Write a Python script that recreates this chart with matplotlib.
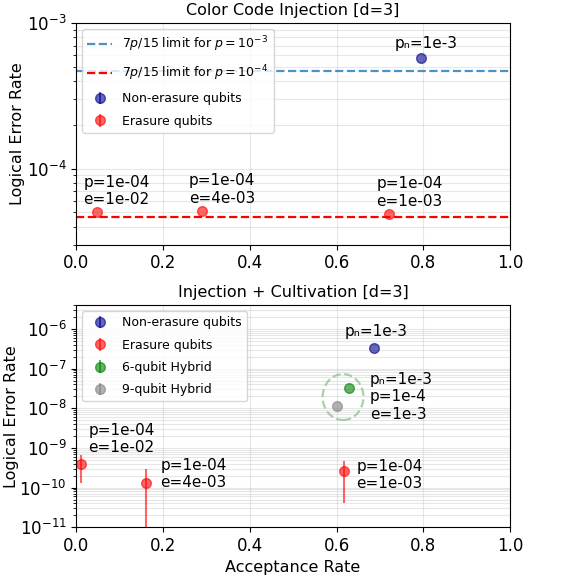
import numpy as np
import matplotlib.pyplot as plt
from matplotlib.patches import Ellipse

# top panel: color code injection
inj_non_x = [0.795]
inj_non_y = [5.75e-4]
inj_era_x = [0.047, 0.29, 0.722]
inj_era_y = [5.0e-5, 5.15e-5, 4.9e-5]
inj_era_labels = ["p=1e-04\ne=1e-02", "p=1e-04\ne=4e-03", "p=1e-04\ne=1e-03"]
p_hi = 1e-3
p_lo = 1e-4

# bottom panel: injection + cultivation
cul_non_x = [0.687]
cul_non_y = [3.3e-7]
cul_era_x = [0.01, 0.162, 0.618]
cul_era_y = [3.9e-10, 1.3e-10, 2.6e-10]
cul_era_lo = [1.3e-10, 1e-13, 4.0e-11]
cul_era_hi = [6.8e-10, 2.9e-10, 4.8e-10]
cul_era_labels = ["p=1e-04\ne=1e-02", "p=1e-04\ne=4e-03", "p=1e-04\ne=1e-03"]
hyb6_x = [0.628]
hyb6_y = [3.3e-8]
hyb9_x = [0.601]
hyb9_y = [1.15e-8]

fig = plt.figure(figsize=(5.77, 5.8), dpi=100)
ax1 = fig.add_axes([0.132, 0.578, 0.752, 0.382])
ax2 = fig.add_axes([0.132, 0.091, 0.752, 0.383])

ms = 7
alpha = 0.6
fs = 11.5
afs = 11

# ---- top
ax1.axhline(7 * p_hi / 15, color='tab:blue', ls='--', lw=1.6, alpha=0.8,
            label=r'$7p/15$ limit for $p=10^{-3}$')
ax1.axhline(7 * p_lo / 15, color='red', ls='--', lw=1.6,
            label=r'$7p/15$ limit for $p=10^{-4}$')
ax1.errorbar(inj_non_x, inj_non_y, yerr=[[0], [0]], fmt='o', color='darkblue',
             alpha=alpha, ms=ms, label='Non-erasure qubits')
ax1.errorbar(inj_era_x, inj_era_y, yerr=[[0] * 3, [0] * 3], fmt='o', color='red',
             alpha=alpha, ms=ms, label='Erasure qubits')
ax1.annotate("pₙ=1e-3", (inj_non_x[0], inj_non_y[0]), xytext=(-26, 7),
             textcoords='offset pixels', ha='left', va='bottom', fontsize=afs)
for x, y, t in zip(inj_era_x, inj_era_y, inj_era_labels):
    ax1.annotate(t, (x, y), xytext=(-13, 5), textcoords='offset pixels',
                 ha='left', va='bottom', fontsize=afs, linespacing=1.2)
ax1.set_yscale('log')
ax1.set_ylim(3e-5, 1e-3)
ax1.set_xlim(0, 1)
ax1.set_title('Color Code Injection [d=3]', fontsize=fs)
ax1.set_ylabel('Logical Error Rate', fontsize=fs)
ax1.yaxis.set_label_coords(-0.118, 0.5)
ax1.grid(True, which='major', alpha=0.3)
ax1.grid(True, which='minor', axis='y', alpha=0.3)
ax1.tick_params(labelsize=12)
ax1.legend(loc='upper left', fontsize=9, labelspacing=0.75)

# ---- bottom
ax2.errorbar(cul_non_x, cul_non_y, yerr=[[0], [0]], fmt='o', color='darkblue',
             alpha=alpha, ms=ms, label='Non-erasure qubits')
yerr = [np.array(cul_era_y) - np.array(cul_era_lo),
        np.array(cul_era_hi) - np.array(cul_era_y)]
ax2.errorbar(cul_era_x, cul_era_y, yerr=yerr, fmt='o', color='red',
             alpha=alpha, ms=ms, lw=1.5, label='Erasure qubits')
ax2.errorbar(hyb6_x, hyb6_y, yerr=[[0], [0]], fmt='o', color='green',
             alpha=alpha, ms=ms, label='6-qubit Hybrid')
ax2.errorbar(hyb9_x, hyb9_y, yerr=[[0], [0]], fmt='o', color='gray',
             alpha=alpha, ms=ms, label='9-qubit Hybrid')
ax2.add_patch(Ellipse((0.615, 0.586), 0.094, 0.207, transform=ax2.transAxes,
                      fill=False, ls='--', lw=1.6, ec='green', alpha=0.35))
ax2.annotate("pₙ=1e-3", (cul_non_x[0], cul_non_y[0]), xytext=(-30, 9),
             textcoords='offset pixels', ha='left', va='bottom', fontsize=afs)
ax2.annotate("pₙ=1e-3\np=1e-4\ne=1e-3", (hyb6_x[0], hyb6_y[0]), xytext=(21, -9),
             textcoords='offset pixels', ha='left', va='center', fontsize=afs,
             linespacing=1.2)
offs = [(8, 9), (14, 9), (12, -4)]
vas = ['bottom', 'center', 'center']
for (x, y, t), o, va in zip(zip(cul_era_x, cul_era_y, cul_era_labels), offs, vas):
    ax2.annotate(t, (x, y), xytext=o, textcoords='offset pixels',
                 ha='left', va=va, fontsize=afs, linespacing=1.2)
ax2.set_yscale('log')
ax2.set_ylim(1e-11, 4e-6)
ax2.set_xlim(0, 1)
ax2.set_title('Injection + Cultivation [d=3]', fontsize=fs)
ax2.set_xlabel('Acceptance Rate', fontsize=fs)
ax2.set_ylabel('Logical Error Rate', fontsize=fs)
ax2.yaxis.set_label_coords(-0.131, 0.5)
ax2.grid(True, which='major', alpha=0.3)
ax2.grid(True, which='minor', axis='y', alpha=0.3)
ax2.tick_params(labelsize=12)
ax2.legend(loc='upper left', fontsize=9, labelspacing=0.75)

fig.savefig('out.png', dpi=100)
